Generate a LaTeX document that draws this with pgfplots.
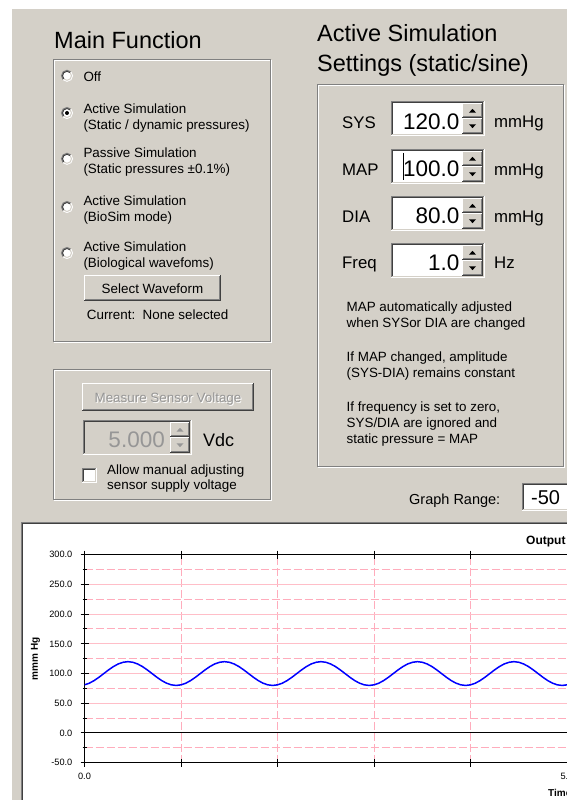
\documentclass[border=0pt]{standalone}
\usepackage{pgfplots}
\pgfplotsset{compat=1.18}
\usepackage{fontspec}
\setmainfont{Liberation Sans}

\definecolor{face}{RGB}{212,208,200}
\definecolor{shadow}{RGB}{128,128,128}
\definecolor{dkshadow}{RGB}{64,64,64}
\definecolor{grayout}{RGB}{150,150,150}
\definecolor{gridpink}{RGB}{255,190,200}
\definecolor{gridpinkd}{RGB}{255,172,188}

\newcommand\fbody{\fontsize{13.4}{16}\selectfont}
\newcommand\fhead{\fontsize{23.5}{28}\selectfont}
\newcommand\flab{\fontsize{16.8}{20}\selectfont}
\newcommand\fval{\fontsize{22.5}{26}\selectfont}

% windows classic widgets, coordinates in screen pixels (y down)
\newcommand\sunken[5]{%
  \fill[#5] (#1,#2) rectangle (#3,#4);
  \draw[line width=1pt,shadow] ({#1+0.5},{#4-1}) -- ({#1+0.5},{#2+0.5}) -- ({#3-1},{#2+0.5});
  \draw[line width=1pt,dkshadow] ({#1+1.5},{#4-2}) -- ({#1+1.5},{#2+1.5}) -- ({#3-2},{#2+1.5});
  \draw[line width=1pt,white] ({#1},{#4-0.5}) -- ({#3-0.5},{#4-0.5}) -- ({#3-0.5},{#2});
  \draw[line width=1pt,face] ({#1+1},{#4-1.5}) -- ({#3-1.5},{#4-1.5}) -- ({#3-1.5},{#2+1});
}
\newcommand\raised[4]{%
  \fill[face] (#1,#2) rectangle (#3,#4);
  \draw[line width=1pt,white] ({#1+0.5},{#4-1}) -- ({#1+0.5},{#2+0.5}) -- ({#3-1},{#2+0.5});
  \draw[line width=1pt,dkshadow] ({#1},{#4-0.5}) -- ({#3-0.5},{#4-0.5}) -- ({#3-0.5},{#2});
  \draw[line width=1pt,shadow] ({#1+1},{#4-1.5}) -- ({#3-1.5},{#4-1.5}) -- ({#3-1.5},{#2+1});
}
\newcommand\spinbtns[5]{%
  \pgfmathsetmacro\ymid{(#2+#4)/2}
  \pgfmathsetmacro\xmid{(#1+#3)/2}
  \raised{#1}{#2}{#3}{\ymid}
  \raised{#1}{\ymid}{#3}{#4}
  \fill[#5] ({\xmid-3.5},{(#2+\ymid)/2+1.8}) -- ({\xmid+3.5},{(#2+\ymid)/2+1.8}) -- ({\xmid},{(#2+\ymid)/2-1.8}) -- cycle;
  \fill[#5] ({\xmid-3.5},{(\ymid+#4)/2-1.8}) -- ({\xmid+3.5},{(\ymid+#4)/2-1.8}) -- ({\xmid},{(\ymid+#4)/2+1.8}) -- cycle;
}
\newcommand\etched[4]{%
  \draw[line width=1pt,white] ({#1+1.5},{#2+1.5}) rectangle ({#3-0.5},{#4-0.5});
  \draw[line width=1pt,shadow] ({#1+0.5},{#2+0.5}) rectangle ({#3-1.5},{#4-1.5});
}
\newcommand\radio[2]{%
  \fill[white] (#1,#2) circle (5.5);
  \draw[line width=1pt,shadow] ({#1},{#2}) ++(135:5.5) arc (135:315:5.5);
  \draw[line width=1pt,dkshadow] ({#1},{#2}) ++(135:4.5) arc (135:315:4.5);
  \draw[line width=1pt,white] ({#1},{#2}) ++(-45:5.5) arc (-45:135:5.5);
  \draw[line width=1pt,face] ({#1},{#2}) ++(-45:4.5) arc (-45:135:4.5);
}

\begin{document}
\begin{tikzpicture}[x=1pt,y=1pt]
\useasboundingbox (0,0) rectangle (567,800);
\clip (0,0) rectangle (567,800);
\fill[white] (0,0) rectangle (567,800);

\begin{scope}[shift={(0,800)},yscale=-1,every node/.style={inner sep=0pt}]
\fill[face] (12,9) rectangle (567,800);

% Main Function group
\node[anchor=base west,font=\fhead] at (54,49) {Main Function};
\etched{53}{59}{272}{343}
\radio{67}{75.8}
\radio{67}{113}
\fill[black] (67,113) circle (2);
\radio{67}{158.8}
\radio{67}{207}
\radio{67}{253}
\begin{scope}[every node/.append style={anchor=base west,font=\fbody}]
\node at (83.3,81.5) {Off};
\node at (83.3,113.3) {Active Simulation};
\node at (83.3,129.3) {(Static / dynamic pressures)};
\node at (83.3,157.3) {Passive Simulation};
\node at (83.3,173.3) {(Static pressures ±0.1\%)};
\node at (83.3,206) {Active Simulation};
\node at (83.3,222) {(BioSim mode)};
\node at (83.3,252) {Active Simulation};
\node at (83.3,268) {(Biological wavefoms)};
\node at (86.7,319.3) {Current:\ \ None selected};
\end{scope}
\raised{84}{275}{221}{301}
\node[anchor=base,font=\fbody] at (152.5,294) {Select Waveform};

% sensor voltage group
\etched{53}{369}{272}{501}
\raised{82}{383}{254}{411}
\node[anchor=base,font=\fbody,text=white] at (169,404) {Measure Sensor Voltage};
\node[anchor=base,font=\fbody,text=grayout] at (168,403) {Measure Sensor Voltage};
\sunken{83}{420}{192}{455}{face}
\spinbtns{170}{422}{190}{453}{grayout}
\node[anchor=base east,font=\fval,text=grayout] at (165,448) {5.000};
\node[anchor=base west,font=\fontsize{18}{20}\selectfont] at (203,446.7) {Vdc};
\sunken{82}{468}{97}{483}{white}
\node[anchor=base west,font=\fbody] at (107,475) {Allow manual adjusting};
\node[anchor=base west,font=\fbody] at (107,490) {sensor supply voltage};

% Active simulation settings group
\node[anchor=base west,font=\fhead] at (317,42) {Active Simulation};
\node[anchor=base west,font=\fhead] at (317,72) {Settings (static/sine)};
\etched{317}{84}{565}{468}
\node[anchor=base west,font=\flab] at (342,128.3) {SYS};
\node[anchor=base west,font=\flab] at (342,176) {MAP};
\node[anchor=base west,font=\flab] at (342,222.7) {DIA};
\node[anchor=base west,font=\flab] at (342,269) {Freq};
\sunken{391}{101}{485}{136}{white}
\sunken{391}{149}{485}{184}{white}
\sunken{391}{196}{485}{231}{white}
\sunken{391}{243}{485}{278}{white}
\spinbtns{462}{103}{483}{134}{black}
\spinbtns{462}{151}{483}{182}{black}
\spinbtns{462}{198}{483}{229}{black}
\spinbtns{462}{245}{483}{276}{black}
\node[anchor=base east,font=\fval] at (459.5,129.3) {120.0};
\node[anchor=base east,font=\fval] at (459.5,176.7) {100.0};
\node[anchor=base east,font=\fval] at (459.5,223.7) {80.0};
\node[anchor=base east,font=\fval] at (459.5,270.7) {1.0};
\draw[black,line width=1pt] (403.5,153) -- (403.5,180);
\node[anchor=base west,font=\flab] at (494,128) {mmHg};
\node[anchor=base west,font=\flab] at (494,176) {mmHg};
\node[anchor=base west,font=\flab] at (494,222.7) {mmHg};
\node[anchor=base west,font=\flab] at (494,269) {Hz};
\begin{scope}[every node/.append style={anchor=base west,font=\fbody}]
\node at (346.5,312) {MAP automatically adjusted};
\node at (346.5,328) {when SYSor DIA are changed};
\node at (346.5,362) {If MAP changed, amplitude};
\node at (346.5,378) {(SYS-DIA) remains constant};
\node at (346.5,412) {If frequency is set to zero,};
\node at (346.5,428) {SYS/DIA are ignored and};
\node at (346.5,444) {static pressure = MAP};
\end{scope}

% graph range
\node[anchor=base west,font=\fontsize{14.5}{17}\selectfont] at (409,505) {Graph Range:};
\sunken{522}{483}{590}{511}{white}
\node[anchor=base west,font=\fontsize{20}{22}\selectfont] at (531,505) {-50};

% chart panel
\fill[white] (22,523) rectangle (567,800);
\draw[line width=1pt,shadow] (21.5,800) -- (21.5,522.5) -- (567,522.5);
\draw[line width=1pt,dkshadow] (22.5,800) -- (22.5,523.5) -- (567,523.5);
\end{scope}

\begin{axis}[
  at={(84.5pt,37.3pt)}, anchor=south west,
  scale only axis, width=965pt, height=208pt,
  xmin=0, xmax=10, ymin=-50, ymax=300,
  xtick={0,1,...,10},
  xticklabels={0.0,,,,,5.0,,,,,10.0},
  ytick={-50,0,...,300},
  yticklabels={-50.0,0.0,50.0,100.0,150.0,200.0,250.0,300.0},
  minor y tick num=1,
  tick align=center, major tick length=8pt, minor tick length=4pt,
  tick style={black, line width=1pt},
  axis line style={black, line width=1.2pt},
  xmajorgrids, ymajorgrids, yminorgrids,
  major x grid style={gridpinkd, line width=1pt, dash pattern=on 8pt off 3pt},
  major y grid style={gridpink, line width=1pt},
  minor y grid style={gridpinkd, line width=1pt, dash pattern=on 8pt off 3pt},
  tick label style={font=\fontsize{9.2}{10}\selectfont},
  yticklabel style={anchor=east, inner sep=0pt, xshift=-8pt},
  xticklabel style={anchor=north, inner sep=0pt, yshift=-6pt},
  every axis title/.style={at={(axis description cs:0.4575,1.05)}, anchor=base west, inner sep=0pt, font=\bfseries\fontsize{12}{14}\selectfont},
  every axis x label/.style={at={(axis description cs:0.4803,-0.1649)}, anchor=base west, inner sep=0pt, font=\bfseries\fontsize{10}{12}\selectfont},
  every axis y label/.style={at={(axis description cs:-0.0508,0.5)}, anchor=center, rotate=90, inner sep=0pt, font=\bfseries\fontsize{10}{12}\selectfont},
  title={Output Pressure},
  xlabel={Time (s)},
  ylabel={mmm Hg},
]
\draw[black, line width=1pt] (axis cs:0,0) -- (axis cs:10,0);
\addplot[blue, line width=1.5pt] coordinates {
 (0.00,81.0) (0.05,83.8) (0.10,88.2) (0.15,93.8) (0.20,100.0) (0.25,106.2) (0.30,111.8) (0.35,116.2) (0.40,119.0) (0.45,120.0)
 (0.50,119.0) (0.55,116.2) (0.60,111.8) (0.65,106.2) (0.70,100.0) (0.75,93.8) (0.80,88.2) (0.85,83.8) (0.90,81.0) (0.95,80.0)
 (1.00,81.0) (1.05,83.8) (1.10,88.2) (1.15,93.8) (1.20,100.0) (1.25,106.2) (1.30,111.8) (1.35,116.2) (1.40,119.0) (1.45,120.0)
 (1.50,119.0) (1.55,116.2) (1.60,111.8) (1.65,106.2) (1.70,100.0) (1.75,93.8) (1.80,88.2) (1.85,83.8) (1.90,81.0) (1.95,80.0)
 (2.00,81.0) (2.05,83.8) (2.10,88.2) (2.15,93.8) (2.20,100.0) (2.25,106.2) (2.30,111.8) (2.35,116.2) (2.40,119.0) (2.45,120.0)
 (2.50,119.0) (2.55,116.2) (2.60,111.8) (2.65,106.2) (2.70,100.0) (2.75,93.8) (2.80,88.2) (2.85,83.8) (2.90,81.0) (2.95,80.0)
 (3.00,81.0) (3.05,83.8) (3.10,88.2) (3.15,93.8) (3.20,100.0) (3.25,106.2) (3.30,111.8) (3.35,116.2) (3.40,119.0) (3.45,120.0)
 (3.50,119.0) (3.55,116.2) (3.60,111.8) (3.65,106.2) (3.70,100.0) (3.75,93.8) (3.80,88.2) (3.85,83.8) (3.90,81.0) (3.95,80.0)
 (4.00,81.0) (4.05,83.8) (4.10,88.2) (4.15,93.8) (4.20,100.0) (4.25,106.2) (4.30,111.8) (4.35,116.2) (4.40,119.0) (4.45,120.0)
 (4.50,119.0) (4.55,116.2) (4.60,111.8) (4.65,106.2) (4.70,100.0) (4.75,93.8) (4.80,88.2) (4.85,83.8) (4.90,81.0) (4.95,80.0)
 (5.00,81.0) (5.05,83.8) (5.10,88.2)
};
\end{axis}
\end{tikzpicture}
\end{document}
